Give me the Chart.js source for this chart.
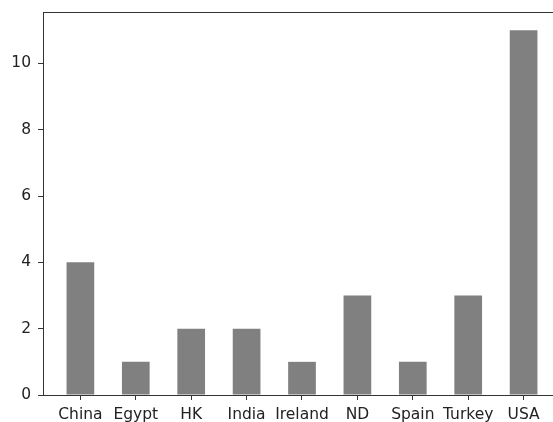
<!DOCTYPE html>
<html>
<head>
<meta charset="utf-8">
<script src="https://cdn.jsdelivr.net/npm/chart.js@4/dist/chart.umd.min.js"></script>
<style>
  html, body { margin: 0; padding: 0; background: #fff; overflow: hidden; }
  #wrap { position: relative; width: 570px; height: 422px; }
</style>
</head>
<body>
<div id="wrap"><canvas id="c"></canvas></div>
<script>
// Counts per country
const categories = ['China', 'Egypt', 'HK', 'India', 'Ireland', 'ND', 'Spain', 'Turkey', 'USA'];
const counts = [4, 1, 2, 2, 1, 3, 1, 3, 11];
const yTicks = [0, 2, 4, 6, 8, 10];

const points = categories.map((c, i) => ({ x: i, y: counts[i] }));
const yMax = Math.max(...counts) * 1.05;
const xPad = 0.675;

// Box outline around the plotting area (top and right spines)
const frame = {
  id: 'frame',
  afterDatasetsDraw(chart) {
    const { ctx, chartArea: a } = chart;
    ctx.save();
    ctx.strokeStyle = '#333';
    ctx.lineWidth = 1;
    ctx.strokeRect(a.left + 0.5, a.top + 0.5, a.right - a.left, a.bottom - a.top);
    ctx.restore();
  }
};

const font = { family: 'DejaVu Sans', size: 15.5 };

new Chart(document.getElementById('c'), {
  type: 'bar',
  data: {
    datasets: [{
      data: points,
      backgroundColor: '#808080',
      borderWidth: 0,
      barPercentage: 0.5,
      categoryPercentage: 1.0
    }]
  },
  options: {
    responsive: true,
    maintainAspectRatio: false,
    animation: false,
    layout: { padding: { top: 12, right: 9, left: 0, bottom: 0 } },
    plugins: { legend: { display: false }, tooltip: { enabled: false } },
    scales: {
      x: {
        type: 'linear',
        offset: false,
        min: -xPad,
        max: categories.length - 1 + xPad,
        afterBuildTicks(scale) {
          scale.ticks = categories.map((_, i) => ({ value: i }));
        },
        afterFit(scale) {
          scale.height = 27;
          scale.paddingLeft = 0;
          scale.paddingRight = 0;
        },
        ticks: {
          callback: (v) => categories[v] ?? '',
          color: '#222',
          font,
          padding: 6,
          maxRotation: 0,
          autoSkip: false
        },
        grid: { offset: false, drawOnChartArea: false, drawTicks: true, tickLength: 5, color: '#333' },
        border: { color: '#333', width: 1 }
      },
      y: {
        min: 0,
        max: yMax,
        afterBuildTicks(scale) {
          scale.ticks = yTicks.map(v => ({ value: v }));
        },
        afterFit(scale) {
          scale.width = 43;
          scale.paddingTop = 0;
          scale.paddingBottom = 0;
        },
        ticks: { color: '#222', font, padding: 7 },
        grid: { drawOnChartArea: false, drawTicks: true, tickLength: 5, color: '#333' },
        border: { color: '#333', width: 1 }
      }
    }
  },
  plugins: [frame]
});
</script>
</body>
</html>
